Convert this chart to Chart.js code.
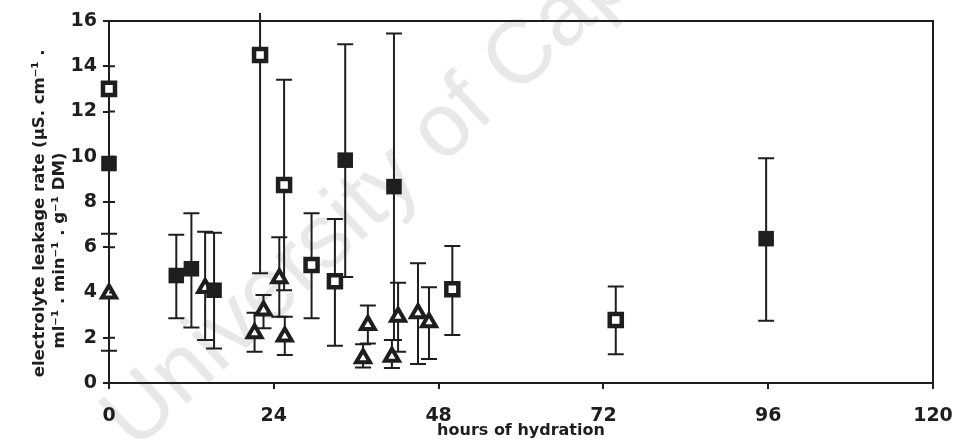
<!DOCTYPE html>
<html>
<head>
<meta charset="utf-8">
<script src="https://cdn.jsdelivr.net/npm/chart.js@4"></script>
<style>
  html, body { margin: 0; padding: 0; background: #fff; }
  #wrap { width: 953px; height: 440px; }
</style>
</head>
<body>
<div id="wrap"><canvas id="leakChart" width="953" height="440"></canvas></div>
<script>
// hours of hydration (x) and leakage rate (y), error bar low / high ends
const filledX = [0, 9.8, 12, 15.3, 34.4, 41.5, 95.7];
const filledY = [9.7, 4.75, 5.05, 4.1, 9.85, 8.68, 6.38];
const filledLo = [null, 2.86, 2.45, 1.53, 4.68, 1.9, 2.75];
const filledHi = [null, 6.55, 7.5, 6.64, 14.97, 15.45, 9.93];

const openX = [0, 22.0, 25.5, 29.5, 32.9, 50.0, 73.8];
const openY = [13.0, 14.5, 8.75, 5.22, 4.5, 4.14, 2.78];
const openLo = [null, 4.85, 4.1, 2.86, 1.65, 2.12, 1.27];
const openHi = [null, 16.35, 13.4, 7.5, 7.25, 6.06, 4.26];

const triX = [0, 14.0, 21.2, 22.5, 24.8, 25.6, 37.0, 37.7, 41.2, 42.1, 45.0, 46.6];
const triY = [3.96, 4.2, 2.2, 3.2, 4.63, 2.05, 1.09, 2.56, 1.16, 2.93, 3.08, 2.68];
const triLo = [1.43, 1.9, 1.38, 2.42, 2.93, 1.24, 0.69, 1.75, 0.66, 1.38, 0.84, 1.06];
const triHi = [6.6, 6.69, 3.1, 3.89, 6.44, 2.93, 1.71, 3.42, 1.9, 4.43, 5.29, 4.23];

const xTicks = [0, 24, 48, 72, 96, 120];
const yTicks = [0, 2, 4, 6, 8, 10, 12, 14, 16];

const ink = '#1e1e1e';

function toPoints(xs, ys) {
  return xs.map((x, i) => ({ x: x, y: ys[i] }));
}

// faint diagonal watermark behind the plot
const watermark = {
  id: 'watermark',
  beforeDraw(chart) {
    const ctx = chart.ctx;
    ctx.save();
    ctx.fillStyle = '#fff';
    ctx.fillRect(0, 0, chart.width, chart.height);
    ctx.translate(135, 452);
    ctx.rotate(-43 * Math.PI / 180);
    ctx.font = '90px "Liberation Sans"';
    ctx.fillStyle = '#e8e8e8';
    ctx.fillText('University of Cape Town', 0, 0);
    ctx.restore();
  }
};

// vertical error bars, drawn under the markers
const errorBars = {
  id: 'errorBars',
  beforeDatasetsDraw(chart) {
    const ctx = chart.ctx;
    const xs = chart.scales.x, ys = chart.scales.y;
    ctx.save();
    ctx.strokeStyle = ink;
    ctx.lineWidth = 2;
    chart.data.datasets.forEach(ds => {
      ds.data.forEach((p, i) => {
        const lo = ds.errLo[i], hi = ds.errHi[i];
        if (lo == null || hi == null) return;
        const px = xs.getPixelForValue(p.x);
        const pLo = ys.getPixelForValue(lo);
        const pHi = ys.getPixelForValue(hi);
        ctx.beginPath();
        ctx.moveTo(px, pLo);
        ctx.lineTo(px, pHi);
        ctx.moveTo(px - 8, pLo);
        ctx.lineTo(px + 8, pLo);
        if (hi <= ys.max) {
          ctx.moveTo(px - 8, pHi);
          ctx.lineTo(px + 8, pHi);
        }
        ctx.stroke();
      });
    });
    ctx.restore();
  }
};

// closes the box (top and right) and adds inward y ticks
const frame = {
  id: 'frame',
  afterDraw(chart) {
    const ctx = chart.ctx;
    const a = chart.chartArea;
    const ys = chart.scales.y;
    ctx.save();
    ctx.strokeStyle = ink;
    ctx.lineWidth = 2;
    ctx.beginPath();
    ctx.moveTo(a.left, a.top);
    ctx.lineTo(a.right, a.top);
    ctx.lineTo(a.right, a.bottom);
    yTicks.forEach(v => {
      const py = ys.getPixelForValue(v);
      ctx.moveTo(a.left, py);
      ctx.lineTo(a.left + 6, py);
    });
    ctx.stroke();
    ctx.restore();
  }
};

const tickFont = { family: 'DejaVu Sans', weight: 'bold', size: 19 };

new Chart(document.getElementById('leakChart'), {
  type: 'scatter',
  data: {
    datasets: [
      {
        data: toPoints(filledX, filledY),
        errLo: filledLo, errHi: filledHi,
        pointStyle: 'rect', pointRadius: 11, pointHoverRadius: 11,
        backgroundColor: ink, borderColor: ink, borderWidth: 0,
        clip: false
      },
      {
        data: toPoints(openX, openY),
        errLo: openLo, errHi: openHi,
        pointStyle: 'rect', pointRadius: 8.5, pointHoverRadius: 8.5,
        backgroundColor: '#fff', borderColor: ink, borderWidth: 4.5,
        clip: false
      },
      {
        data: toPoints(triX, triY),
        errLo: triLo, errHi: triHi,
        pointStyle: 'triangle', pointRadius: 8, pointHoverRadius: 8,
        backgroundColor: '#fff', borderColor: ink, borderWidth: 4,
        clip: false
      }
    ]
  },
  options: {
    responsive: false,
    animation: false,
    devicePixelRatio: 1,
    events: [],
    layout: { padding: { top: 21, right: 0, bottom: 0, left: 0 } },
    plugins: { legend: { display: false }, tooltip: { enabled: false } },
    scales: {
      x: {
        type: 'linear', min: 0, max: 120,
        afterBuildTicks: s => { s.ticks = xTicks.map(v => ({ value: v })); },
        afterFit: s => { s.height = 57; s.paddingRight = 20; },
        ticks: { font: tickFont, color: ink, padding: 16, maxRotation: 0 },
        grid: { drawOnChartArea: false, tickLength: 6, color: ink, lineWidth: 2 },
        border: { color: ink, width: 2 },
        title: {
          display: true, text: 'hours of hydration', color: ink,
          font: { family: 'DejaVu Sans', weight: 'bold', size: 16 },
          padding: { top: 0, bottom: 0 }
        }
      },
      y: {
        min: 0, max: 16,
        afterBuildTicks: s => { s.ticks = yTicks.map(v => ({ value: v })); },
        afterFit: s => { s.width = 109; },
        ticks: { font: tickFont, color: ink, padding: 6 },
        grid: { drawOnChartArea: false, tickLength: 6, color: ink, lineWidth: 2 },
        border: { color: ink, width: 2 },
        title: {
          display: true, color: ink, align: 'start',
          text: [' electrolyte leakage rate (µS. cm⁻¹ .', '      ml⁻¹ . min⁻¹ . g⁻¹ DM)'],
          font: { family: 'DejaVu Sans', weight: 'bold', size: 16.5, lineHeight: 1.2 },
          padding: { top: 30, bottom: 0 }
        }
      }
    }
  },
  plugins: [watermark, errorBars, frame]
});
</script>
</body>
</html>
